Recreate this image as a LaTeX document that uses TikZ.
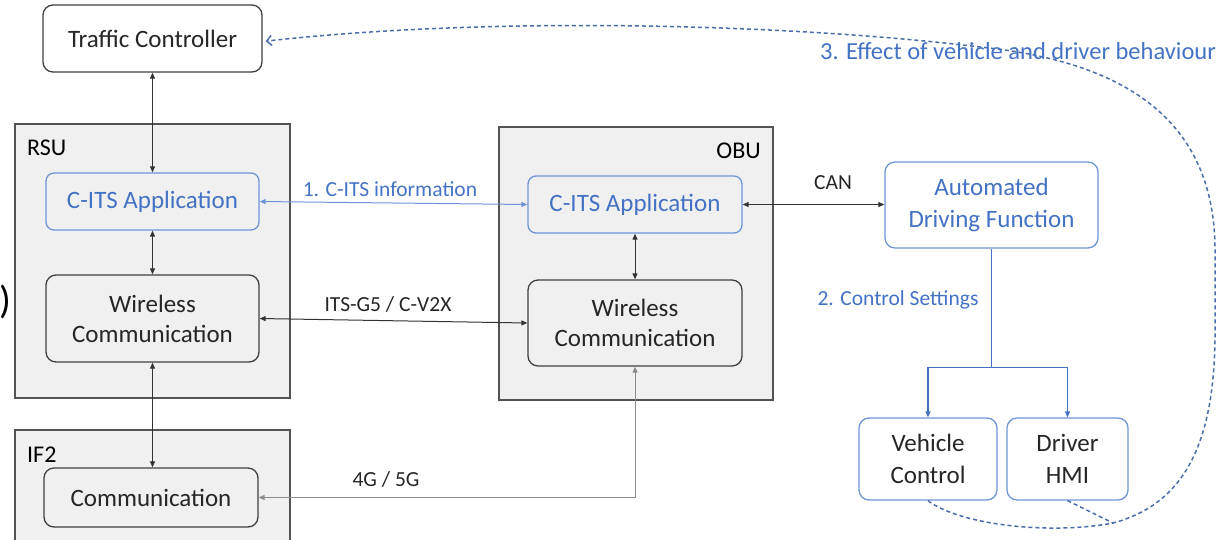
\documentclass[tikz,border=0pt]{standalone}
\usepackage{fontspec}
\setmainfont{Carlito}
\usetikzlibrary{arrows.meta}
\definecolor{cblue}{HTML}{4472C4}
\definecolor{cboxblue}{HTML}{6F94D6}
\definecolor{cdash}{HTML}{4A6DAA}
\definecolor{cgray}{HTML}{F0F0F0}
\definecolor{cdark}{HTML}{404040}
\begin{document}
\begin{tikzpicture}[x=1pt,y=-1pt,
  container/.style={draw=cdark!90, fill=cgray, line width=1.4pt, inner sep=0pt},
  box/.style={draw=cdark, line width=1.3pt, rounded corners=10pt, inner sep=0pt, align=center,
    font=\fontsize{25}{30}\selectfont, text=black!85},
  bluebox/.style={box, draw=cboxblue, text=cblue},
  lbl/.style={font=\fontsize{21.5}{26}\selectfont, inner sep=0pt},
  biarrow/.style={draw=black!80, line width=1pt, {Triangle[length=6pt,width=5pt]}-{Triangle[length=6pt,width=5pt]}},
  bluebi/.style={draw=cboxblue, line width=1pt, {Triangle[length=6pt,width=5pt]}-{Triangle[length=6pt,width=5pt]}},
  bluearr/.style={draw=cblue, line width=1.1pt, -{Triangle[length=6pt,width=5pt]}},
  dashline/.style={draw=cdash, line width=1.5pt, dash pattern=on 4pt off 3pt}
]
\useasboundingbox (0,0) rectangle (1225,539);

% containers
\node[container, minimum width=275pt, minimum height=274pt] (rsu) at (152.5,261) {};
\node[container, minimum width=275pt, minimum height=130pt] (if2) at (152.5,495) {};
\node[container, minimum width=274pt, minimum height=273pt] (obu) at (636,263.5) {};
\node[lbl, font=\fontsize{24}{28}\selectfont, anchor=west] (rsulbl) at (27,148) {RSU};
\node[lbl, font=\fontsize{24}{28}\selectfont, anchor=west] (if2lbl) at (27,455) {IF2};
\node[lbl, font=\fontsize{24}{28}\selectfont, anchor=east] (obulbl) at (761,151) {OBU};

% boxes
\node[box, fill=white, minimum width=219pt, minimum height=67pt] (tc) at (152.5,38.5) {Traffic Controller};
\node[bluebox, fill=cgray, minimum width=213pt, minimum height=57pt, rounded corners=8pt] (rsucits) at (152.5,201.5) {C-ITS Application};
\node[box, fill=cgray, minimum width=213pt, minimum height=87pt] (rsuwl) at (152.5,318.5) {Wireless\\Communication};
\node[box, fill=cgray, minimum width=214pt, minimum height=59pt] (comm) at (151,497.5) {Communication};
\node[bluebox, fill=cgray, minimum width=214pt, minimum height=57pt, rounded corners=8pt] (obucits) at (635,204.5) {C-ITS Application};
\node[box, fill=cgray, minimum width=214pt, minimum height=86pt] (obuwl) at (635,323) {Wireless\\Communication};
\node[bluebox, fill=white, minimum width=213pt, minimum height=86pt, font=\fontsize{25}{31.5}\selectfont] (adf) at (991.5,205) {Automated\\Driving Function};
\node[bluebox, fill=white, text=black!85, minimum width=138pt, minimum height=82pt, font=\fontsize{25}{31.5}\selectfont] (vc) at (928,459) {Vehicle\\Control};
\node[bluebox, fill=white, text=black!85, minimum width=121pt, minimum height=82pt, font=\fontsize{25}{31.5}\selectfont] (hmi) at (1067.5,459) {Driver\\HMI};

% stray glyph at left edge
\node[inner sep=0pt, font=\fontsize{39}{40}\selectfont] (paren) at (5,302) {)};

% connectors
\draw[biarrow] (tc.south) -- (rsucits.north);
\draw[biarrow] (rsucits.south) -- (rsuwl.north);
\draw[biarrow] (rsuwl.south) -- (rsuwl.south |- comm.north);
\draw[bluebi] (rsucits.east) -- (obucits.west);
\draw[biarrow] (rsuwl.east) -- (obuwl.west);
\draw[biarrow] (obucits.south) -- (obucits.south |- obuwl.north);
\draw[biarrow] (obucits.east) -- (obucits.east -| adf.west);
\draw[biarrow, draw=black!45] (comm.east) -| (obuwl.south);

\draw[draw=cblue, line width=1.1pt] (adf.south) -- ++(0,119) coordinate (split);
\draw[bluearr] (split) -| (vc.north);
\draw[bluearr] (split) -| (hmi.north);

% labels
\node[lbl, text=cblue] (l1) at (390,189) {1. C-ITS information};
\node[lbl, text=black!85] (l2) at (388,304) {ITS-G5 / C-V2X};
\node[lbl, text=black!85] (l3) at (386,479) {4G / 5G};
\node[lbl, text=black!85] (l4) at (833,183) {CAN};
\node[lbl, text=cblue] (l5) at (898,300) {2. Control Settings};

% feedback dashed path
\coordinate (m) at (1113,523);
\draw[dashline] (hmi.south) -- (m);
\draw[dashline, -{Straight Barb[length=5pt,width=10pt]}, shorten >=3pt]
  (vc.south) .. controls (960,525) and (1050,535) .. (m)
  .. controls (1180,505) and (1215,450) .. (1215,333) -- (1215,250)
  .. controls (1215,110) and (1110,60) .. (980,47)
  .. controls (800,25) and (500,15) .. ([yshift=-3pt]tc.east);
\node[lbl, text=cblue, font=\fontsize{24.5}{28}\selectfont] (l6) at (1018,51) {3. Effect of vehicle and driver behaviour};
\end{tikzpicture}
\end{document}
